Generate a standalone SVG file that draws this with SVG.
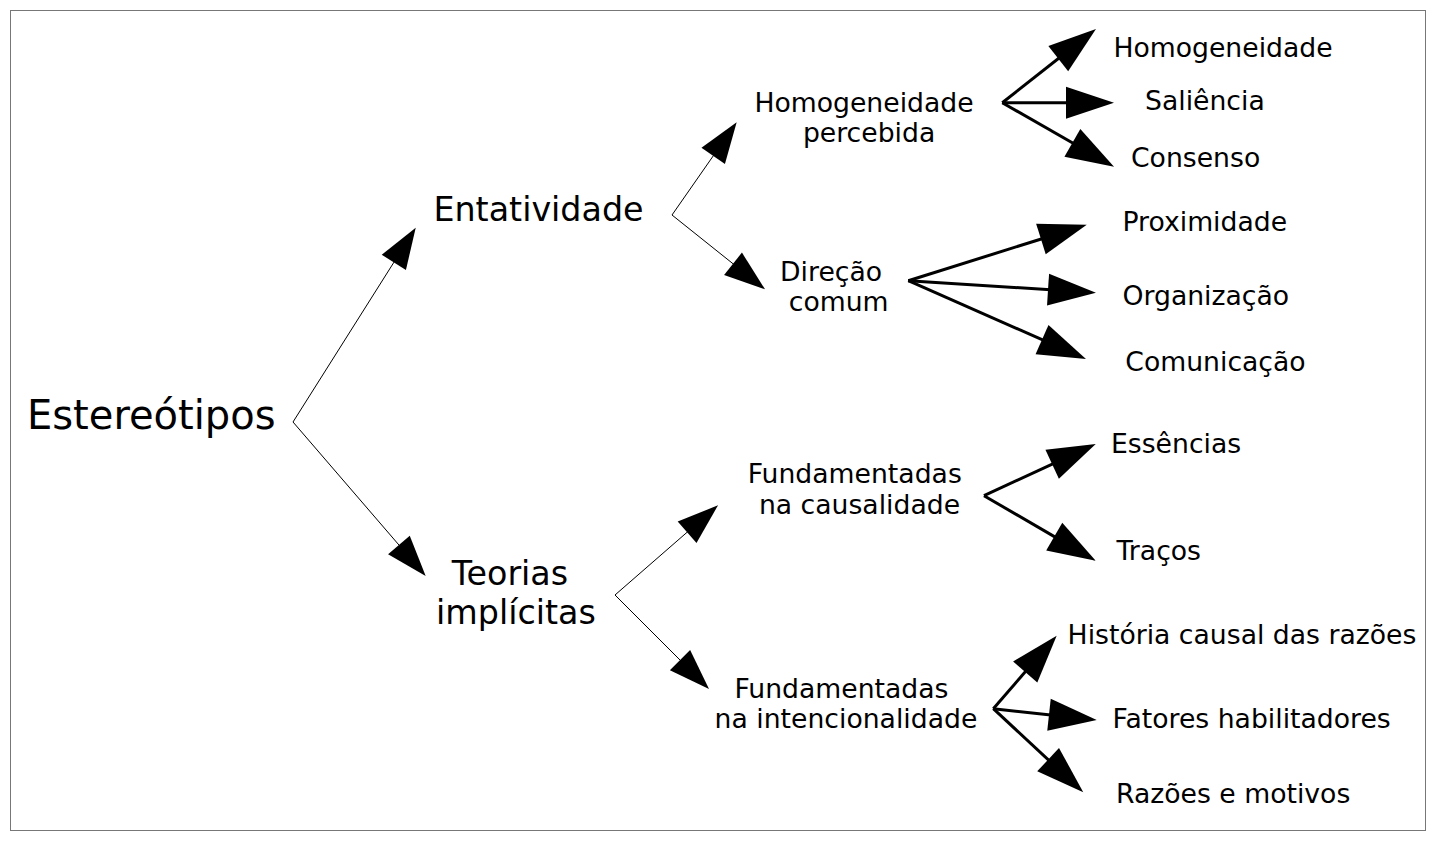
<svg xmlns="http://www.w3.org/2000/svg" width="1436" height="841" viewBox="0 0 1436 841">
<style>
text{font-family:"DejaVu Sans","Liberation Sans",sans-serif;fill:#000}
.s{font-size:26.67px}
.m{font-size:33.33px}
.l{font-size:40px}
.thin{stroke:#000;stroke-width:1;fill:none;marker-end:url(#ah1)}
.thick{stroke:#000;stroke-width:3;fill:none;marker-end:url(#ah2)}
</style>
<defs>
<marker id="ah1" markerUnits="userSpaceOnUse" markerWidth="42" markerHeight="30" refX="11" refY="14.3" orient="auto" overflow="visible"><path d="M0,0 L41,14.3 L0,28.6 z" fill="#000"/></marker>
<marker id="ah2" markerUnits="userSpaceOnUse" markerWidth="49" markerHeight="33" refX="18" refY="16" orient="auto" overflow="visible"><path d="M0,0 L48,16 L0,32 z" fill="#000"/></marker>
</defs>
<rect x="10.5" y="10.5" width="1415" height="820" fill="#fff" stroke="#777" stroke-width="1"/>
<g id="connectors">
<polyline class="thin" points="293,422 399.7,253.1"/>
<polyline class="thin" points="293,422 406.1,553.3"/>
<polyline class="thin" points="672,215 719.5,146.9"/>
<polyline class="thin" points="672,215 741.6,270.6"/>
<polyline class="thick" points="1002.3,102.7 1072.4,47.5"/>
<polyline class="thick" points="1002.3,102.7 1084,102.7"/>
<polyline class="thick" points="1002.3,102.7 1088,151.8"/>
<polyline class="thick" points="908.3,280.7 1058.1,233.7"/>
<polyline class="thick" points="908.3,280.7 1066,290.8"/>
<polyline class="thick" points="908.3,280.7 1058.5,346.9"/>
<polyline class="thin" points="615,595 695.4,525"/>
<polyline class="thin" points="615,595 687.8,667.8"/>
<polyline class="thick" points="984,495.7 1068.5,456.6"/>
<polyline class="thick" points="984,495.7 1069.8,545.6"/>
<polyline class="thick" points="993.3,708.7 1037,658.3"/>
<polyline class="thick" points="993.3,708.7 1066.9,716.7"/>
<polyline class="thick" points="993.3,708.7 1061.3,771.9"/>
</g>
<g id="estereotipos"><text class="l" x="27" y="428.5">Estereótipos</text></g>
<g id="entatividade"><text class="m" x="433.4" y="221">Entatividade</text></g>
<g id="teorias"><text class="m" x="451.8" y="584.5">Teorias</text><text class="m" x="436" y="624">implícitas</text></g>
<g id="homog-percebida"><text class="s" x="754.4" y="111.7">Homogeneidade</text><text class="s" x="802.9" y="141.5">percebida</text></g>
<g id="direcao"><text class="s" x="780.1" y="280.5">Direção</text><text class="s" x="788.8" y="310.8">comum</text></g>
<g id="causalidade"><text class="s" x="747.7" y="483.2">Fundamentadas</text><text class="s" x="758.9" y="513.5">na causalidade</text></g>
<g id="intencionalidade"><text class="s" x="734.4" y="697.5">Fundamentadas</text><text class="s" x="714.6" y="727.5">na intencionalidade</text></g>
<g id="homogeneidade"><text class="s" x="1113.4" y="57">Homogeneidade</text></g>
<g id="saliencia"><text class="s" x="1145" y="109.5">Saliência</text></g>
<g id="consenso"><text class="s" x="1131" y="167">Consenso</text></g>
<g id="proximidade"><text class="s" x="1122.5" y="231">Proximidade</text></g>
<g id="organizacao"><text class="s" x="1122.5" y="305.3">Organização</text></g>
<g id="comunicacao"><text class="s" x="1125.3" y="371">Comunicação</text></g>
<g id="essencias"><text class="s" x="1111" y="452.5">Essências</text></g>
<g id="tracos"><text class="s" x="1116.5" y="560.2">Traços</text></g>
<g id="historia"><text class="s" x="1067.6" y="643.5">História causal das razões</text></g>
<g id="fatores"><text class="s" x="1112.6" y="727.5">Fatores habilitadores</text></g>
<g id="razoes"><text class="s" x="1116" y="802.5">Razões e motivos</text></g>
</svg>
